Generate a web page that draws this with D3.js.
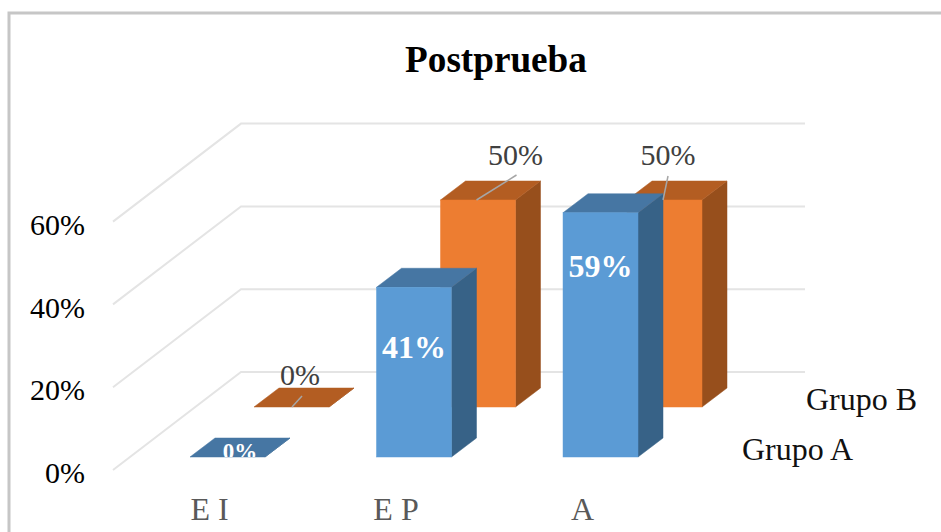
<!DOCTYPE html>
<html>
  <head>
  <title>Postprueba</title>
  <style>
    html, body { margin: 0; padding: 0; background: white; overflow: hidden; }
    text { font-family: "Liberation Serif", "Times New Roman", serif; }
  </style>
  </head>
  <body>
  <svg id="chart" width="941" height="532"></svg>

  <script src="https://d3js.org/d3.v7.min.js"></script>
  <script>
    const categories = ['E I', 'E P', 'A']
    const seriesNames = ['Grupo A', 'Grupo B']
    const grupoA = [0, 0.41, 0.59]
    const grupoB = [0, 0.50, 0.50]
    const yTicks = [0, 0.2, 0.4, 0.6]

    const svg = d3.select('#chart')

    // front plane of the chart, everything else is shifted from it
    const x = d3.scaleBand().domain(categories).range([190, 638]).paddingInner(0.598).paddingOuter(0)
    const y = d3.scaleLinear().domain([0, 0.6]).range([457, 208.6])
    const pct = d3.format('.0%')

    const barDepth = { dx: 25, dy: -19 }
    const seriesShift = { dx: 64, dy: -50 }

    // chart frame
    svg.append('rect')
      .attr('x', 9).attr('y', 13).attr('width', 960).attr('height', 560)
      .attr('fill', 'white').attr('stroke', '#c6c6c6').attr('stroke-width', 3)

    // walls
    const wallLeft = 113, wallCorner = 241, wallRight = 805
    const wallFront = 13, wallBack = -85 // y offset from the value scale

    svg.append('g').selectAll('polyline')
      .data(yTicks)
      .join('polyline')
      .attr('points', d => [
        [wallLeft, y(d) + wallFront],
        [wallCorner, y(d) + wallBack],
        [wallRight, y(d) + wallBack]
      ].join(' '))
      .attr('fill', 'none')
      .attr('stroke', '#e4e4e4')
      .attr('stroke-width', 2)

    // axes
    const yAxis = svg.append('g')
      .attr('transform', `translate(85, ${wallFront + 3})`)
      .call(d3.axisLeft(y).tickValues(yTicks).tickFormat(pct).tickSize(0).tickPadding(0))
    yAxis.select('.domain').remove()
    yAxis.selectAll('text').attr('font-size', 30).attr('fill', '#000')

    const xAxis = svg.append('g')
      .attr('transform', 'translate(-18, 493)')
      .call(d3.axisBottom(x).tickSize(0).tickPadding(0))
    xAxis.select('.domain').remove()
    xAxis.selectAll('text')
      .attr('font-size', 32)
      .attr('fill', '#595959')
      .attr('dy', '0.85em')

    // one box for each bar, back row first so the front row covers it
    function drawBars(values, shift, colors, name) {
      const bars = svg.append('g')
        .attr('class', name)
        .attr('transform', `translate(${shift.dx}, ${shift.dy})`)
        .selectAll('g')
        .data(values.map((v, i) => ({ v, cat: categories[i] })))
        .join('g')

      const left = d => x(d.cat)
      const right = d => x(d.cat) + x.bandwidth()

      bars.append('polygon')
        .attr('points', d => [
          [right(d), y(d.v)],
          [right(d) + barDepth.dx, y(d.v) + barDepth.dy],
          [right(d) + barDepth.dx, y(0) + barDepth.dy],
          [right(d), y(0)]
        ].join(' '))
        .attr('fill', colors.side)
        .attr('stroke', colors.side)
        .attr('stroke-width', 0.5)

      bars.append('polygon')
        .attr('points', d => [
          [left(d), y(d.v)],
          [left(d) + barDepth.dx, y(d.v) + barDepth.dy],
          [right(d) + barDepth.dx, y(d.v) + barDepth.dy],
          [right(d), y(d.v)]
        ].join(' '))
        .attr('fill', colors.top)
        .attr('stroke', colors.top)
        .attr('stroke-width', 0.5)

      bars.filter(d => d.v > 0).append('rect')
        .attr('x', left)
        .attr('y', d => y(d.v))
        .attr('width', x.bandwidth())
        .attr('height', d => y(0) - y(d.v))
        .attr('fill', colors.front)
        .attr('stroke', colors.front)
        .attr('stroke-width', 0.5)
    }

    drawBars(grupoB, seriesShift, { front: '#ed7d31', top: '#b35d22', side: '#974f1c' }, 'grupo-b')
    drawBars(grupoA, { dx: 0, dy: 0 }, { front: '#5b9bd5', top: '#4676a3', side: '#376287' }, 'grupo-a')

    // Grupo B labels sit above the bars with a thin leader line
    const grupoBLabels = [
      { cat: 'E I', v: grupoB[0], from: [48, -11], to: [38, 0], tx: 46, ty: -22 },
      { cat: 'E P', v: grupoB[1], from: [76, -25], to: [36, 0], tx: 75, ty: -35 },
      { cat: 'A', v: grupoB[2], from: [41, -24], to: [36, 0], tx: 41, ty: -35 }
    ]
    const bx = d => x(d.cat) + seriesShift.dx
    const by = d => y(d.v) + seriesShift.dy

    svg.append('g').selectAll('line')
      .data(grupoBLabels)
      .join('line')
      .attr('x1', d => bx(d) + d.from[0])
      .attr('y1', d => by(d) + d.from[1])
      .attr('x2', d => bx(d) + d.to[0])
      .attr('y2', d => by(d) + d.to[1])
      .attr('stroke', '#a6a6a6')
      .attr('stroke-width', 1.5)

    svg.append('g').selectAll('text')
      .data(grupoBLabels)
      .join('text')
      .attr('x', d => bx(d) + d.tx)
      .attr('y', d => by(d) + d.ty)
      .attr('text-anchor', 'middle')
      .attr('font-size', 30)
      .attr('fill', '#404040')
      .text(d => pct(d.v))

    // Grupo A labels are white and bold inside the bar, the 0% one gets cut by the base
    const grupoALabels = [
      { cat: 'E I', v: grupoA[0], size: 23, tx: 12.5, ty: 2 },
      { cat: 'E P', v: grupoA[1], size: 32, tx: 0, ty: 71 },
      { cat: 'A', v: grupoA[2], size: 32, tx: 0, ty: 64 }
    ]

    svg.append('clipPath').attr('id', 'above-base')
      .append('rect').attr('x', 0).attr('y', 0).attr('width', 941).attr('height', y(0))

    svg.append('g').attr('clip-path', 'url(#above-base)').selectAll('text')
      .data(grupoALabels)
      .join('text')
      .attr('x', d => x(d.cat) + x.bandwidth() / 2 + d.tx)
      .attr('y', d => y(d.v) + d.ty)
      .attr('text-anchor', 'middle')
      .attr('font-size', d => d.size)
      .attr('font-weight', 'bold')
      .attr('fill', 'white')
      .text(d => pct(d.v))

    // title
    svg.append('text')
      .attr('x', 496).attr('y', 72)
      .attr('text-anchor', 'middle')
      .attr('font-size', 37.2)
      .attr('font-weight', 'bold')
      .attr('fill', 'black')
      .text('Postprueba')

    // series names next to the depth axis
    svg.append('g').selectAll('text')
      .data(seriesNames)
      .join('text')
      .attr('x', (d, i) => 742 + i * seriesShift.dx)
      .attr('y', (d, i) => 460 + i * seriesShift.dy)
      .attr('font-size', 32)
      .attr('fill', '#111')
      .text(d => d)
  </script>
  </body>
</html>
